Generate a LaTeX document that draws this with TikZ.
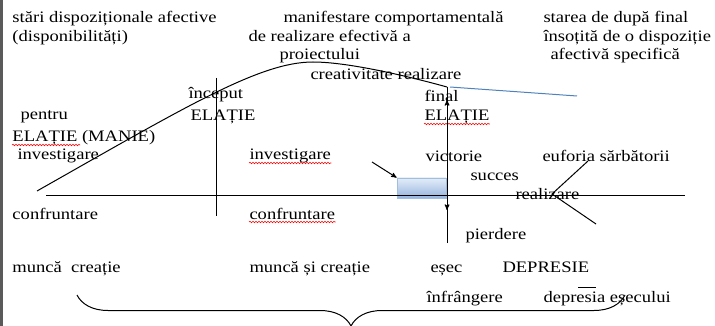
\documentclass[tikz,border=0pt]{standalone}
\usepackage{fontspec}
\setmainfont[FakeStretch=1.16]{Liberation Serif}
\usetikzlibrary{arrows,decorations.pathreplacing,decorations.pathmorphing}
\definecolor{lineblue}{RGB}{79,129,189}
\definecolor{boxtop}{RGB}{228,237,248}
\definecolor{boxbot}{RGB}{150,181,222}
\definecolor{boxedge}{RGB}{160,190,222}
\definecolor{frame}{RGB}{90,90,90}

\begin{document}
\begin{tikzpicture}[x=1pt,y=-1pt,>=stealth',line width=1pt,
	txt/.style={anchor=base west,inner sep=0pt,font=\fontsize{16}{19}\selectfont},
	spell/.style={red,line width=.6pt,decorate,decoration={snake,amplitude=.7pt,segment length=3pt}}]
			\useasboundingbox (0,0) rectangle (715,326);
			\fill[frame] (0,0) rectangle (3,326);

			\node[txt] (stari)  at (12,23)  {stări dispoziționale afective};
			\node[txt] (disp)   at (12,42)  {(disponibilități)};
			\node[txt] (manif)  at (283,23) {manifestare comportamentală};
			\node[txt] (derea)  at (248,42) {de realizare efectivă a};
			\node[txt] (proiect) at (279,60) {proiectului};
			\node[txt] (creat)  at (310,80) {creativitate realizare};
			\node[txt] (stdupa) at (543,23) {starea de după final};
			\node[txt] (insot)  at (543,42) {însoțită de o dispoziție};
			\node[txt] (afect)  at (550,60) {afectivă specifică};

			\node[txt] (inceput) at (188,99)  {început};
			\node[txt] (elinc)   at (190,121) {ELAȚIE};
			\node[txt] (final)   at (424,102) {final};
			\node[txt] (elfin)   at (424,121) {ELAȚIE};
			\node[txt] (pentru)  at (20,120)  {pentru};
			\node[txt] (elman)   at (12,142)  {ELAȚIE (MANIE)};
			\node[txt] (invst)   at (17,160)  {investigare};
			\node[txt] (invcen)  at (249,160) {investigare};
			\node[txt] (victor)  at (425,161) {victorie};
			\node[txt] (euforia) at (542,161) {euforia sărbătorii};
			\node[txt] (succes)  at (470,181) {succes};
			\node[txt] (realiz)  at (515,199) {realizare};
			\node[txt] (confst)  at (12,219)  {confruntare};
			\node[txt] (confcen) at (249,219) {confruntare};
			\node[txt] (pierd)   at (465,239) {pierdere};
			\node[txt] (munca)   at (12,272)  {muncă~~creație};
			\node[txt] (muncasi) at (249,272) {muncă și creație};
			\node[txt] (esec)    at (430,272) {eșec};
			\node[txt] (depres)  at (502,272) {DEPRESIE};
			\node[txt] (infr)    at (426,302) {înfrângere};
			\node[txt] (depesec) at (543,302) {depresia eșecului};

			\draw[spell] ([yshift=-3pt]elman.base west) -- ++(68,0);
			\draw[spell] ([yshift=-3pt]elfin.base west) -- ([yshift=-3pt]elfin.base east);
			\draw[spell] ([yshift=-3pt]invcen.base west) -- ([yshift=-3pt]invcen.base east);
			\draw[spell] ([yshift=-3pt]confcen.base west) -- ([yshift=-3pt]confcen.base east);

			\coordinate (axl) at (46,195);
			\coordinate (axr) at (685,195);
			\coordinate (inctop) at (216,78);
			\coordinate (incbot) at (216,216);
			\coordinate (cstart) at (37,191);
			\coordinate (cpeak) at (313,62);
			\coordinate (cend) at (447,87);
			\coordinate (blueend) at (577,96);
			\coordinate (finbot) at (447,243);
			\coordinate (finup) at (447,100);
			\coordinate (findown) at (447,210);
			\coordinate (vtx) at (552,194);
			\coordinate (vup) at (588,161);
			\coordinate (vdown) at (596,224);
			\coordinate (ptr) at (372,162);
			\coordinate (dashl) at (578,287);
			\coordinate (dashr) at (596,287);

			\node[draw=boxedge,line width=.8pt,top color=boxtop,bottom color=boxbot,
				minimum width=49pt,minimum height=20pt,inner sep=0pt] (hl) at (421.5,188) {};

			\draw (axl) -- (axr);
			\draw (inctop) -- (incbot);
			\draw (cstart) .. controls (187,106) and (260,62) .. (cpeak)
				.. controls (345,62) and (400,74) .. (cend);
			\draw[lineblue] ([xshift=3pt]cend) -- (blueend);
			\draw[->] (finbot) -- (finup);
			\draw[->] (cend) -- (findown);
			\draw (vup) -- (vtx) -- (vdown);
			\draw[->] (ptr) -- (hl.north west);
			\draw[line width=.8pt] (dashl) -- (dashr);
			\draw[decorate,decoration={brace,mirror,amplitude=31pt}] (77,295) -- (625,295);
			\end{tikzpicture}
\end{document}
